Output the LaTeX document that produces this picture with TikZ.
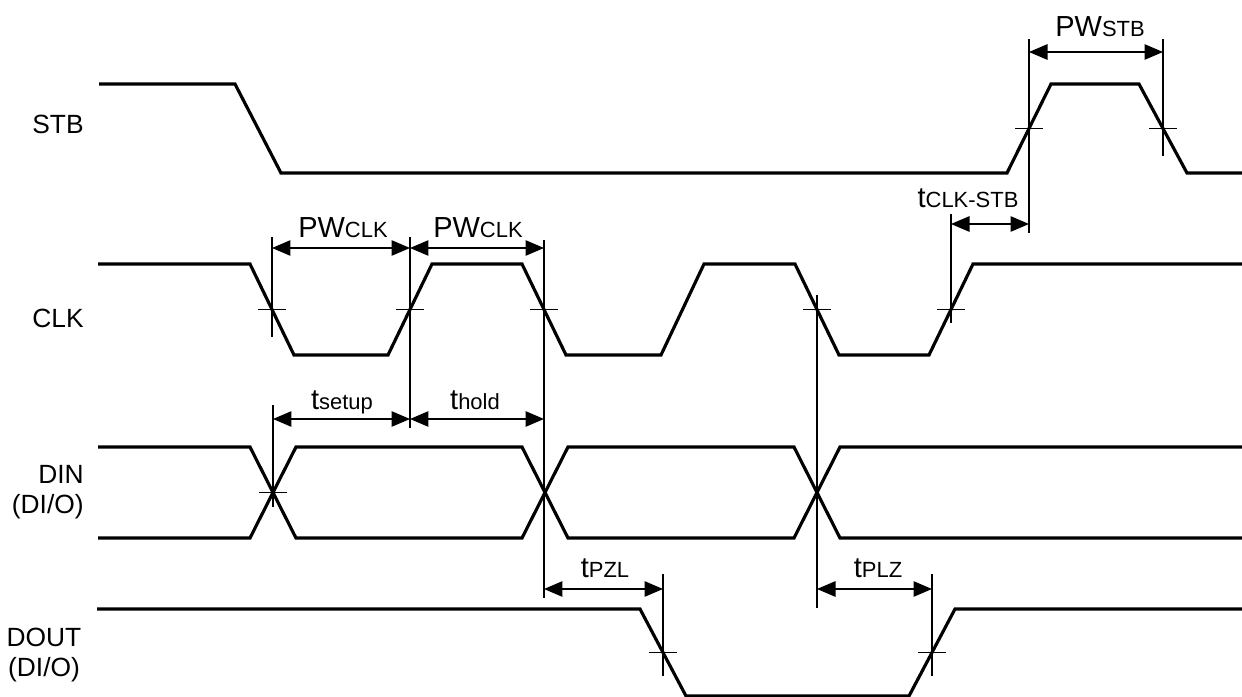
\documentclass[tikz,border=0pt]{standalone}
\usepackage{fontspec}
\setmainfont{Liberation Sans}
\usetikzlibrary{arrows.meta}
\newcommand{\tsub}[1]{{\fontsize{12.5}{12.5}\selectfont #1}}

\begin{document}
\begin{tikzpicture}[x=0.02cm,y=-0.02cm,
    sig/.style={line width=1.8pt,line join=miter},
    thin/.style={line width=0.7pt},
    dim/.style={thin,{Triangle[length=0.37cm,width=0.31cm]}-{Triangle[length=0.37cm,width=0.31cm]}},
    every node/.style={inner sep=0pt,font=\fontsize{15}{17}\selectfont},
    tlabel/.style={anchor=base,font=\fontsize{16.5}{17}\selectfont}]
    \useasboundingbox (0,0) rectangle (1242,697);
    % signal names
    \node[anchor=east] (stb) at (84,124) {STB};
    \node[anchor=east] (clk) at (84,318) {CLK};
    \node[anchor=east,align=right] (din) at (84,492) {DIN\\(DI/O)};
    \node[align=center] (dout) at (44,655) {DOUT\\(DI/O)};
    % waveforms
    \draw[sig] (99,84)--(235,84)--(281,173)--(1007,173)--(1051,84)--(1139,84)--(1187,173)--(1242,173);
    \draw[sig] (98,264)--(250,264)--(294,355)--(388,355)--(432,264)--(522,264)--(566,355)--(661,355)
        --(704,264)--(795,264)--(839,355)--(929,355)--(973,264)--(1242,264);
    \draw[sig] (98,447)--(250,447)--(296,538)--(522,538)--(568,447)--(794,447)--(840,538)--(1242,538);
    \draw[sig] (98,538)--(250,538)--(296,447)--(522,447)--(568,538)--(794,538)--(840,447)--(1242,447);
    \draw[sig] (97,609)--(640,609)--(686,696)--(909,696)--(955,609)--(1242,609);
    % reference lines
    \coordinate (s1) at (1029,39);  \draw[thin] (s1)--(1029,233);
    \coordinate (s2) at (1163,39);  \draw[thin] (s2)--(1163,156);
    \coordinate (c1) at (272,237);  \draw[thin] (c1)--(272,337);
    \coordinate (c2) at (410,237);  \draw[thin] (c2)--(410,428);
    \coordinate (c3) at (544,240);  \draw[thin] (c3)--(544,598);
    \coordinate (c4) at (817,295);  \draw[thin] (c4)--(817,608);
    \coordinate (c5) at (951,214);  \draw[thin] (c5)--(951,323);
    \coordinate (d1) at (273,405);  \draw[thin] (d1)--(273,507);
    \coordinate (o1) at (663,574);  \draw[thin] (o1)--(663,676);
    \coordinate (o2) at (932,574);  \draw[thin] (o2)--(932,676);
    \foreach \x/\y in {1029/128.5, 1163/128.5, 272/309.5, 410/309.5, 544/309.5, 817/309.5, 951/309.5,
        273/492.5, 663/652.5, 932/652.5}
        \draw[thin] (\x-14,\y)--(\x+14,\y);
    % timing arrows
    \coordinate (pws1) at (1029,52);  \coordinate (pws2) at (1163,52);
    \coordinate (cs1) at (951,224);   \coordinate (cs2) at (1029,224);
    \coordinate (pw1) at (272,248);   \coordinate (pw2) at (410,248);   \coordinate (pw3) at (544,248);
    \coordinate (su1) at (273,419);   \coordinate (su2) at (410,419);   \coordinate (su3) at (544,419);
    \coordinate (pz1) at (544,589);   \coordinate (pz2) at (663,589);
    \coordinate (pl1) at (817,589);   \coordinate (pl2) at (932,589);
    \draw[dim] (pws1)--(pws2);
    \draw[dim] (cs1)--(cs2);
    \draw[dim] (pw1)--(pw2);
    \draw[dim] (pw2)--(pw3);
    \draw[dim] (su1)--(su2);
    \draw[dim] (su2)--(su3);
    \draw[dim] (pz1)--(pz2);
    \draw[dim] (pl1)--(pl2);
    % timing labels
    \node[tlabel] (lpws) at (1100,36) {PW\tsub{STB}};
    \node[tlabel] (lcs) at (968,207) {t\tsub{CLK-STB}};
    \node[tlabel] (lpw1) at (343,237) {PW\tsub{CLK}};
    \node[tlabel] (lpw2) at (478,237) {PW\tsub{CLK}};
    \node[tlabel] (lsu) at (342,409) {t\tsub{setup}};
    \node[tlabel] (lho) at (475,409) {t\tsub{hold}};
    \node[tlabel] (lpz) at (605,577) {t\tsub{PZL}};
    \node[tlabel] (lpl) at (878,577) {t\tsub{PLZ}};
\end{tikzpicture}
\end{document}
